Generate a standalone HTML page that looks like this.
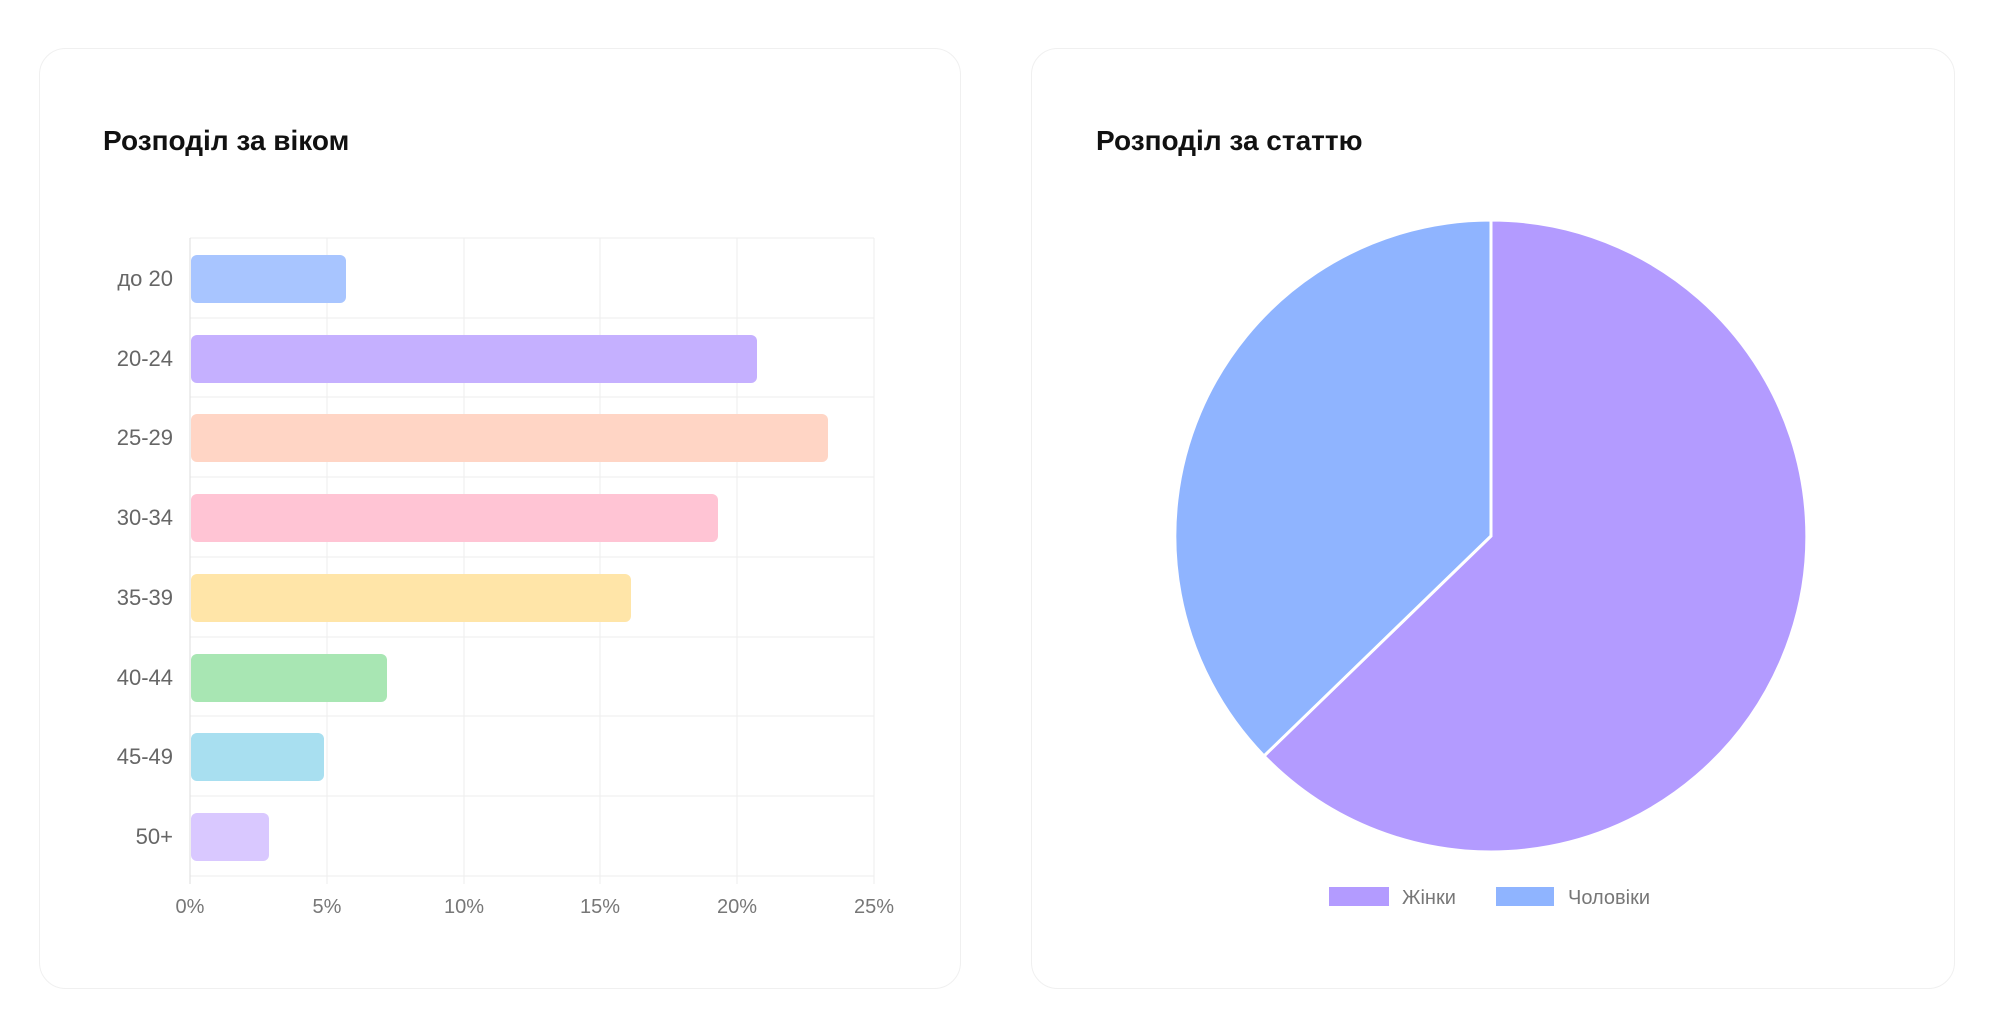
<!DOCTYPE html>
<html><head><meta charset="utf-8"><style>
body{margin:0;width:1999px;height:1019px;background:#fff;overflow:hidden;font-family:"Liberation Sans",sans-serif}
</style></head><body>
<svg width="1999" height="1019" xmlns="http://www.w3.org/2000/svg" font-family="Liberation Sans, sans-serif">
<rect x="39.5" y="48.5" width="921" height="940" rx="26" fill="#fff" stroke="#f0f0f0"/>
<rect x="1031.5" y="48.5" width="923" height="940" rx="26" fill="#fff" stroke="#f0f0f0"/>
<text x="103" y="150" font-size="28" font-weight="bold" fill="#111">Розподіл за віком</text>
<text x="1096" y="150" font-size="28" font-weight="bold" fill="#111">Розподіл за статтю</text>
<g stroke="#eeeeee" stroke-width="1">
<line x1="190" y1="238" x2="874" y2="238"/><line x1="190" y1="318" x2="874" y2="318"/><line x1="190" y1="397" x2="874" y2="397"/><line x1="190" y1="477" x2="874" y2="477"/><line x1="190" y1="557" x2="874" y2="557"/><line x1="190" y1="637" x2="874" y2="637"/><line x1="190" y1="716" x2="874" y2="716"/><line x1="190" y1="796" x2="874" y2="796"/><line x1="190" y1="876" x2="874" y2="876"/>
<line x1="327" y1="238" x2="327" y2="884"/><line x1="464" y1="238" x2="464" y2="884"/><line x1="600" y1="238" x2="600" y2="884"/><line x1="737" y1="238" x2="737" y2="884"/><line x1="874" y1="238" x2="874" y2="884"/>
</g>
<line x1="190" y1="238" x2="190" y2="884" stroke="#dddddd"/>
<g>
<rect x="191" y="255" width="155" height="48" rx="6" fill="#a8c5ff"/>
<rect x="191" y="335" width="566" height="48" rx="6" fill="#c5b0ff"/>
<rect x="191" y="414" width="637" height="48" rx="6" fill="#ffd5c5"/>
<rect x="191" y="494" width="527" height="48" rx="6" fill="#ffc4d4"/>
<rect x="191" y="574" width="440" height="48" rx="6" fill="#ffe5a8"/>
<rect x="191" y="654" width="196" height="48" rx="6" fill="#a8e6b3"/>
<rect x="191" y="733" width="133" height="48" rx="6" fill="#a8dff0"/>
<rect x="191" y="813" width="78" height="48" rx="6" fill="#d9c8ff"/>
</g>
<g font-size="22" fill="#666" text-anchor="end">
<text x="173" y="286">до 20</text><text x="173" y="366">20-24</text><text x="173" y="445">25-29</text><text x="173" y="525">30-34</text><text x="173" y="605">35-39</text><text x="173" y="685">40-44</text><text x="173" y="764">45-49</text><text x="173" y="844">50+</text>
</g>
<g font-size="20" fill="#777" text-anchor="middle">
<text x="190" y="913">0%</text><text x="327" y="913">5%</text><text x="464" y="913">10%</text><text x="600" y="913">15%</text><text x="737" y="913">20%</text><text x="874" y="913">25%</text>
</g>
<path d="M1491 536 L1491 220 A316 316 0 1 1 1264 756 Z" fill="#b39bff" stroke="#fff" stroke-width="3"/>
<path d="M1491 536 L1264 756 A316 316 0 0 1 1491 220 Z" fill="#8fb4ff" stroke="#fff" stroke-width="3"/>
<rect x="1329" y="887" width="60" height="19" fill="#b39bff"/>
<text x="1402" y="904" font-size="20" fill="#777">Жінки</text>
<rect x="1496" y="887" width="58" height="19" fill="#8fb4ff"/>
<text x="1568" y="904" font-size="20" fill="#777">Чоловіки</text>
</svg>
</body></html>
